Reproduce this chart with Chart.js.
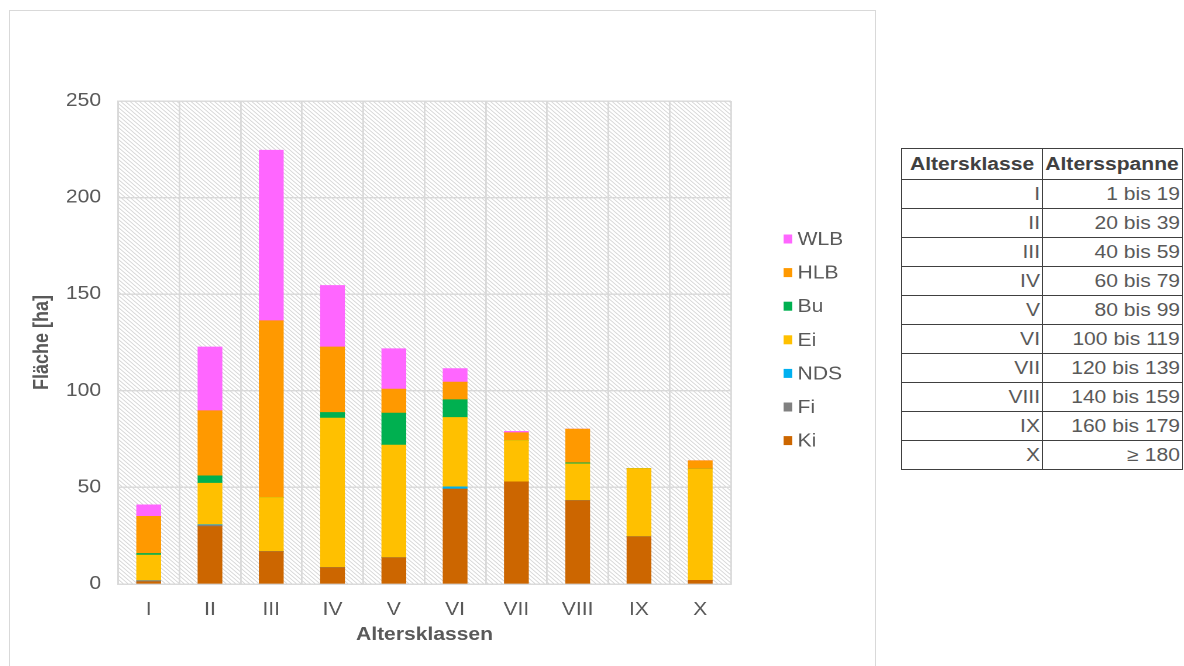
<!DOCTYPE html>
<html><head><meta charset="utf-8">
<script src="https://cdn.jsdelivr.net/npm/chart.js@4.4.1/dist/chart.umd.min.js"></script>
<style>
html,body{margin:0;padding:0;background:#fff;width:1184px;height:666px;overflow:hidden;font-family:"Liberation Sans",Arial,sans-serif;}
#frame{position:absolute;left:9px;top:10px;width:867px;height:670px;border:1.5px solid #d9d9d9;box-sizing:border-box;}
#wrap{position:absolute;left:9px;top:10px;width:742px;height:656px;transform:scaleX(1.17);transform-origin:0 0;}
table{position:absolute;left:901px;top:148px;width:282px;border-collapse:collapse;font-size:18px;color:#595959;}
td,th{border:1.5px solid #404040;padding:0 2px;height:28px;line-height:28px;text-align:right;white-space:nowrap;}
th{font-weight:bold;color:#404040;text-align:center;height:30px;}
td span{display:inline-block;transform:scaleX(1.17);transform-origin:100% 50%;}
th span{display:inline-block;transform:scaleX(1.17);transform-origin:50% 50%;}
</style></head><body>
<div id="frame"></div>
<div id="wrap"><canvas id="c" width="742" height="656"></canvas></div>
<table id="tbl"></table>
<script>
const categories = ["I","II","III","IV","V","VI","VII","VIII","IX","X"];
const Ki  = [1.2, 29.7, 16.8, 8.5, 13.6, 49.1, 52.9, 43.2, 24.5, 1.9];
const Fi  = [0.5, 0.7, 0, 0, 0, 0, 0, 0, 0, 0];
const NDS = [0, 0.3, 0, 0, 0, 1.2, 0, 0, 0, 0];
const Ei  = [13.3, 21.5, 28.0, 77.4, 58.3, 35.9, 21.4, 19.0, 35.3, 57.6];
const Bu  = [0.8, 3.8, 0, 2.9, 16.6, 9.2, 0, 0.5, 0, 0];
const HLB = [19.2, 33.7, 91.5, 33.9, 12.4, 9.1, 4.0, 17.5, 0, 4.3];
const WLB = [6.0, 33.0, 88.2, 31.8, 20.9, 7.0, 0.7, 0, 0, 0];
const yTicks = [0, 50, 100, 150, 200, 250];
const ageRanges = ["1 bis 19","20 bis 39","40 bis 59","60 bis 79","80 bis 99","100 bis 119","120 bis 139","140 bis 159","160 bis 179","\u2265 180"];

// table
const tbl = document.getElementById('tbl');
let html = '<tr><th style="width:136px"><span>Altersklasse</span></th><th><span>Altersspanne</span></th></tr>';
categories.forEach((c,i)=>{ html += '<tr><td><span>'+c+'</span></td><td><span>'+ageRanges[i]+'</span></td></tr>'; });
tbl.innerHTML = html;

const series = [
  {label:"Ki", data:Ki, color:"#CC6600"},
  {label:"Fi", data:Fi, color:"#808080"},
  {label:"NDS", data:NDS, color:"#00B0F0"},
  {label:"Ei", data:Ei, color:"#FFC000"},
  {label:"Bu", data:Bu, color:"#00B050"},
  {label:"HLB", data:HLB, color:"#FF9900"},
  {label:"WLB", data:WLB, color:"#FF66FF"}
];

function makePattern(ctx){
  const p = document.createElement('canvas');
  p.width = 8; p.height = 8;
  const g = p.getContext('2d');
  g.fillStyle = '#ffffff'; g.fillRect(0,0,8,8);
  g.strokeStyle = '#d0d0d0'; g.lineWidth = 1.4;
  g.beginPath();
  g.moveTo(-2,-2); g.lineTo(10,10);
  g.moveTo(-2,6); g.lineTo(2,10);
  g.moveTo(6,-2); g.lineTo(10,2);
  g.stroke();
  const pat = ctx.createPattern(p,'repeat');
  if (pat.setTransform) pat.setTransform(new DOMMatrix([0.5,0,0,0.5,0,0]));
  return pat;
}

const bgPlugin = {
  id:'bgHatch',
  beforeDraw(chart){
    const {ctx, chartArea:a} = chart;
    ctx.save();
    ctx.fillStyle = makePattern(ctx);
    ctx.fillRect(a.left, a.top, a.right-a.left, a.bottom-a.top);
    ctx.restore();
  }
};

const legendPlugin = {
  id:'customLegend',
  afterDraw(chart){
    const ctx = chart.ctx;
    const ds = chart.data.datasets.slice().reverse();
    ctx.save();
    ctx.font = '18px "Liberation Sans", Arial, sans-serif';
    ctx.textBaseline = 'middle';
    ds.forEach((d,i)=>{
      const y = 229 + i*33.6;
      ctx.fillStyle = d.backgroundColor;
      ctx.fillRect(662, y-4.5, 7.5, 9);
      ctx.fillStyle = '#595959';
      ctx.fillText(d.label, 674, y+1);
    });
    ctx.restore();
  }
};

const FONT = '"Liberation Sans", Arial, sans-serif';
const ctx = document.getElementById('c').getContext('2d');
new Chart(ctx, {
  type:'bar',
  data:{
    labels:categories,
    datasets:series.map(s=>({label:s.label, data:s.data, backgroundColor:s.color, borderWidth:0, barThickness:20.5}))
  },
  options:{
    responsive:false, animation:false, devicePixelRatio:2,
    layout:{padding:{top:91, right:125, left:0, bottom:0}},
    plugins:{legend:{display:false}, tooltip:{enabled:false}},
    scales:{
      x:{
        stacked:true,
        grid:{color:'#d9d9d9', lineWidth:1.4, drawTicks:false, offset:true},
        border:{color:'#d9d9d9', width:1.4},
        ticks:{color:'#595959', font:{size:18, family:FONT}, padding:15},
        title:{display:true, text:'Altersklassen', color:'#595959', font:{size:18, weight:'bold', family:FONT}, padding:{top:0, bottom:20}},
        afterFit(scale){ scale.height = 82; }
      },
      y:{
        stacked:true, min:0, max:250,
        afterBuildTicks(scale){ scale.ticks = yTicks.map(v=>({value:v})); },
        grid:{color:'#d9d9d9', lineWidth:1.4, drawTicks:false},
        border:{color:'#d9d9d9', width:1.4},
        ticks:{color:'#595959', font:{size:18, family:FONT}, padding:14.5},
        title:{display:true, text:'Fläche [ha]', color:'#595959', font:{size:18, weight:'bold', family:FONT}, padding:{top:17.5, bottom:0}},
        afterFit(scale){ scale.width = 93.2; }
      }
    }
  },
  plugins:[bgPlugin, legendPlugin]
});
</script>
</body></html>
